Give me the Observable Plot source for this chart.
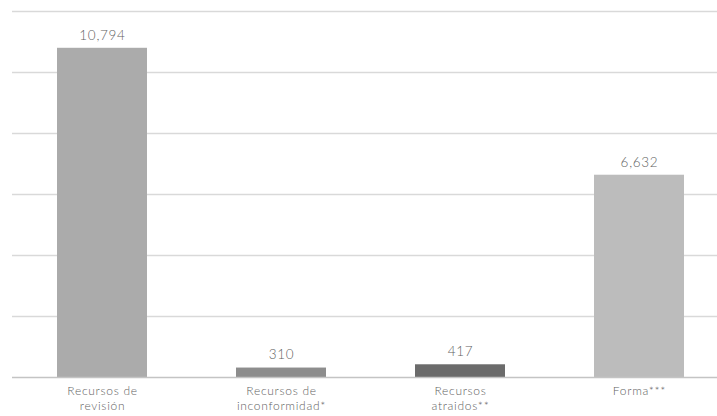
<!DOCTYPE html>
<html>
<head>
<meta charset="utf-8">
<script src="https://cdn.jsdelivr.net/npm/d3@7"></script>
<script src="https://cdn.jsdelivr.net/npm/@observablehq/plot@0.6"></script>
<style>
  html, body { margin: 0; padding: 0; background: #fff; }
  svg { display: block; }
  svg text { letter-spacing: 0.7px; }
</style>
</head>
<body>
<div id="chart"></div>
<script>
const categories = ["Recursos de revisión", "Recursos de inconformidad*", "Recursos atraidos**", "Forma***"];
const tickLabels = ["Recursos de\nrevisión", "Recursos de\ninconformidad*", "Recursos\natraidos**", "Forma***"];
const values = [10794, 310, 417, 6632];
const colors = ["#ababab", "#8d8d8d", "#6b6b6b", "#bcbcbc"];
const gridTicks = [2000, 4000, 6000, 8000, 10000, 12000];

const data = categories.map((c, i) => ({cat: c, value: values[i], color: colors[i], label: tickLabels[i]}));
const fmt = d3.format(",");

const chart = Plot.plot({
  width: 717,
  height: 416,
  marginTop: 11,
  marginBottom: 39,
  marginLeft: 12,
  marginRight: 0,
  style: {fontFamily: "Lato, 'Open Sans', sans-serif", color: "#5f5f5f", background: "#fff"},
  x: {domain: categories, range: [12, 729], paddingInner: 0.5, paddingOuter: 0.25, align: 0.5, axis: null},
  y: {domain: [0, 12000], axis: null},
  marks: [
    Plot.ruleY(gridTicks, {stroke: "#d9d9d9", strokeWidth: 1.3}),
    Plot.barY(data, {x: "cat", y: "value", fill: "color"}),
    Plot.ruleY([0], {stroke: "#c4c4c4", strokeWidth: 1.3}),
    Plot.text(data, {x: "cat", y: "value", text: d => fmt(d.value), dy: -13, fontSize: 13.5, fontWeight: 300, fill: "#5f5f5f"}),
    Plot.text(data, {x: "cat", y: 0, text: "label", dy: 6, lineAnchor: "top", lineHeight: 1.3, fontSize: 12, fontWeight: 300, fill: "#5f5f5f"})
  ]
});
document.getElementById("chart").append(chart);
</script>
</body>
</html>
